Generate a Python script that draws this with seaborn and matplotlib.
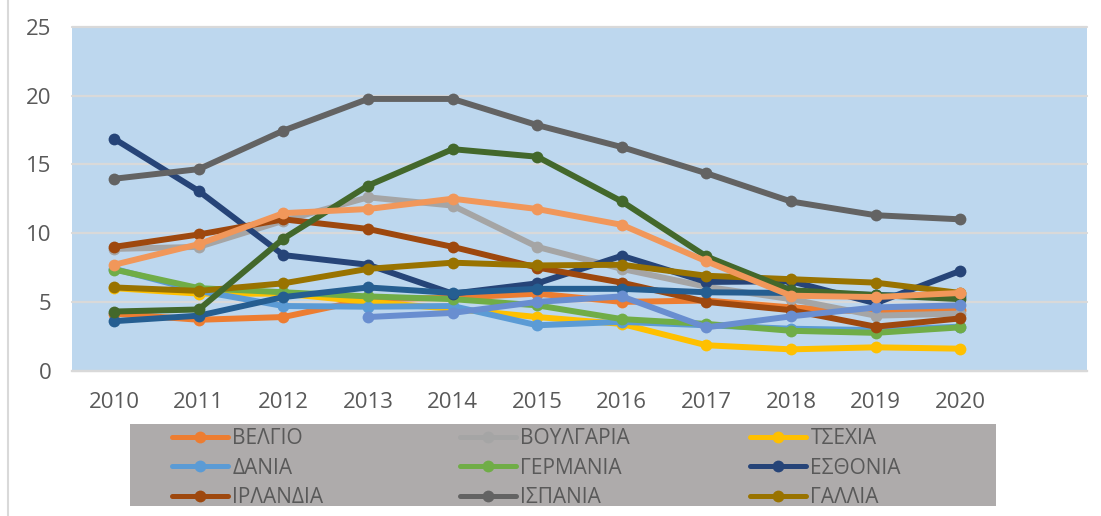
import numpy as np
import pandas as pd
import matplotlib
matplotlib.use("Agg")
import matplotlib.pyplot as plt
from matplotlib.lines import Line2D
from matplotlib.patches import Rectangle
import seaborn as sns

sns.set_theme(style="white")
plt.rcParams['font.family'] = ['Open Sans', 'DejaVu Sans']

# data
years = [2010, 2011, 2012, 2013, 2014, 2015, 2016, 2017, 2018, 2019, 2020]
belgio = [4.15, 3.7, 3.9, 5.2, 5.3, 5.6, 5.0, 5.1, 4.6, 4.25, 4.4]
voulgaria = [8.85, 9.0, 10.9, 12.6, 12.0, 9.0, 7.4, 6.1, 5.2, 4.0, 4.15]
tsexia = [6.0, 5.6, 5.6, 5.0, 4.5, 3.9, 3.4, 1.85, 1.55, 1.7, 1.6]
dania = [7.4, 5.8, 4.7, 4.65, 4.7, 3.3, 3.55, 3.3, 3.05, 2.95, 3.2]
germania = [7.35, 6.0, 5.7, 5.4, 5.2, 4.75, 3.75, 3.4, 2.9, 2.75, 3.15]
esthonia = [16.85, 13.05, 8.4, 7.7, 5.6, 6.35, 8.35, 6.45, 6.5, 4.9, 7.25]
irlandia = [9.0, 9.9, 11.0, 10.3, 9.0, 7.5, 6.4, 5.0, 4.4, 3.2, 3.8]
ispania = [13.95, 14.65, 17.45, 19.75, 19.75, 17.85, 16.25, 14.35, 12.3, 11.3, 11.0]
gallia = [6.05, 5.8, 6.35, 7.4, 7.85, 7.65, 7.7, 6.9, 6.65, 6.4, 5.65]
kroatia = [3.6, 4.0, 5.35, 6.05, 5.65, 5.95, 5.95, 5.7, 5.65, 5.5, 5.4]
italia = [4.3, 4.45, 9.6, 13.45, 16.1, 15.55, 12.3, 8.3, 5.85, 5.5, 5.2]
kypros = [np.nan, np.nan, np.nan, 3.9, 4.2, 5.0, 5.4, 3.15, 3.95, 4.6, 4.75]
letonia = [7.7, 9.2, 11.45, 11.75, 12.5, 11.75, 10.6, 7.95, 5.45, 5.35, 5.65]

countries = ['ΒΕΛΓΙΟ', 'ΒΟΥΛΓΑΡΙΑ', 'ΤΣΕΧΙΑ', 'ΔΑΝΙΑ', 'ΓΕΡΜΑΝΙΑ', 'ΕΣΘΟΝΙΑ',
             'ΙΡΛΑΝΔΙΑ', 'ΙΣΠΑΝΙΑ', 'ΓΑΛΛΙΑ', 'ΚΡΟΑΤΙΑ', 'ΙΤΑΛΙΑ', 'ΚΥΠΡΟΣ', 'ΛΕΤΟΝΙΑ']
series = [belgio, voulgaria, tsexia, dania, germania, esthonia,
          irlandia, ispania, gallia, kroatia, italia, kypros, letonia]
colors = ['#ED7D31', '#A5A5A5', '#FFC000', '#5B9BD5', '#70AD47', '#264478',
          '#9E480E', '#636363', '#997300', '#255E91', '#43682B', '#698ED0', '#F1975A']
shown_in_legend = 9

df = pd.DataFrame({'year': np.tile(years, len(countries)),
                   'country': np.repeat(countries, len(years)),
                   'value': np.concatenate(series)})
palette = dict(zip(countries, colors))

fig = plt.figure(figsize=(11.01, 5.16), dpi=100)
ax = fig.add_axes([72/1101, (516-370.7)/516, (1087-72)/1101, (370.7-26.7)/516])
ax.set_facecolor('#BDD7EE')

sns.lineplot(data=df.dropna(), x='year', y='value', hue='country', hue_order=countries,
             palette=palette, marker='o', markersize=8.5, markeredgewidth=0,
             linewidth=4.3, legend=False, ax=ax)

ax.set_xlim(2009.5, 2021.5)
ax.set_ylim(0, 25)
ax.set_xticks(years)
ax.set_xticklabels([str(y) for y in years])
ax.set_yticks([0, 5, 10, 15, 20, 25])
ax.set_xlabel('')
ax.set_ylabel('')
ax.yaxis.grid(True, color='#D9D9D9', linewidth=1.6)
ax.set_axisbelow(True)
for g in ax.get_ygridlines():
    g.set_clip_on(False)
for s in ['top', 'left', 'right']:
    ax.spines[s].set_visible(False)
ax.spines['bottom'].set_color('#D9D9D9')
ax.spines['bottom'].set_linewidth(1.6)
ax.tick_params(axis='both', length=0, labelsize=16, labelcolor='#595959')
ax.tick_params(axis='y', pad=15)
ax.tick_params(axis='x', pad=15)

# chart border on the left
fig.add_artist(Line2D([8/1101, 8/1101], [0, 1], color='#D9D9D9', linewidth=1.5))

# legend box (only the first nine series fit)
fig.add_artist(Rectangle((130/1101, (516-506)/516), (996-130)/1101, (506-424)/516,
                         facecolor='#AEABAB', edgecolor='none', zorder=0))
handles = [Line2D([], [], color=c, marker='o', markersize=8.5, markeredgewidth=0,
                  linewidth=3.6) for c in colors[:shown_in_legend]]
col_x = [172, 460, 750]
for col in range(3):
    idx = [col, col + 3, col + 6]
    leg = fig.legend([handles[i] for i in idx], [countries[i] for i in idx],
                     loc='upper left', bbox_to_anchor=(col_x[col]/1101, (516-428)/516),
                     frameon=False, fontsize=15, handlelength=2.7, handletextpad=0.2,
                     labelspacing=0.41, borderpad=0.0, borderaxespad=0.0,
                     labelcolor='#595959')

fig.savefig('out.png', dpi=100)
